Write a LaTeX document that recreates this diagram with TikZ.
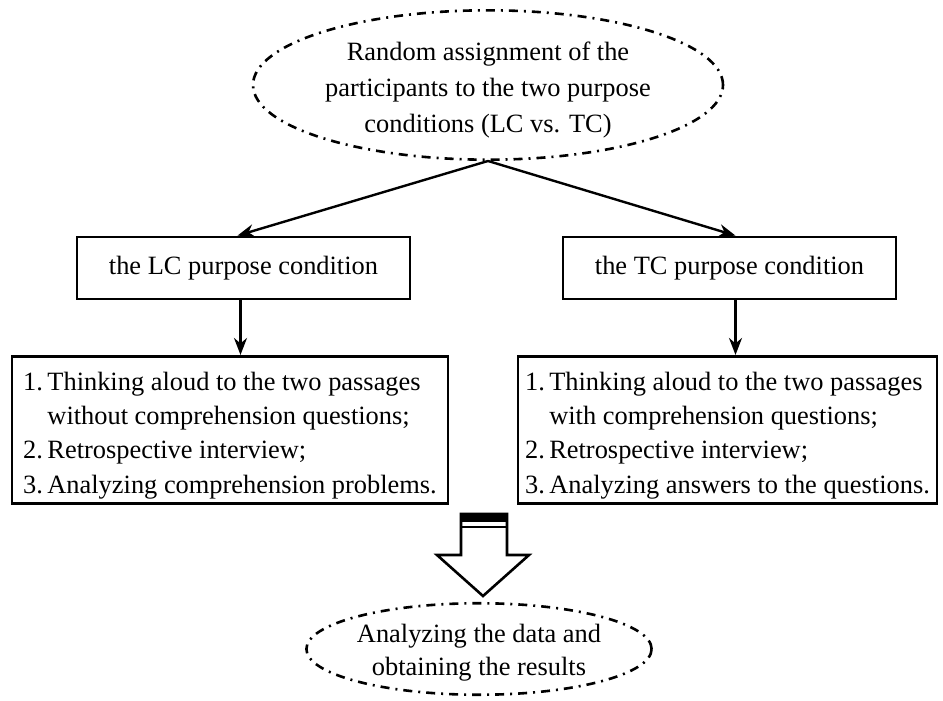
\documentclass[tikz,border=0pt]{standalone}
\usepackage{fontspec}
\setmainfont{Liberation Serif}
\usetikzlibrary{shapes.geometric,arrows.meta}
\tikzset{
  dashell/.style={ellipse, draw, line width=1.3pt, inner sep=0pt,
    dash pattern=on 4.5pt off 3pt on 1pt off 3pt, align=center},
  condbox/.style={rectangle, draw, line width=1.4pt, inner sep=0pt,
    minimum width=166.5pt, minimum height=31pt,
    font=\fontsize{13.2}{17.5}\selectfont},
  listbox/.style={rectangle, draw, line width=1.4pt, inner sep=0pt,
    minimum height=70pt, font=\fontsize{13.2}{17.2}\selectfont},
  conn/.style={line width=1.2pt, -{Stealth[length=8.5pt,width=6.5pt]}},
  bigarrow/.style={line width=1.3pt, fill=white}
}
\begin{document}
\begin{tikzpicture}[x=0.5pt,y=-0.5pt]
\useasboundingbox (0,0) rectangle (943,701);

\node[dashell, minimum width=235pt, minimum height=74pt,
      font=\fontsize{13.2}{18}\selectfont] (top) at (488,85)
  {\rule{0pt}{14pt}Random assignment of the\\participants to the two purpose\\conditions (LC vs. TC)};

\node[condbox] (lc) at (243.5,268) {the LC purpose condition};
\node[condbox] (tc) at (729.5,268) {the TC purpose condition};

\node[listbox, minimum width=218pt] (ll) at (230,430)
  {\renewcommand{\arraystretch}{1.0}%
   \begin{tabular}{@{}l@{\,}l@{}}
   \rule{0pt}{16.9pt}1. & Thinking aloud to the two passages\\
      & without comprehension questions;\\
   2. & Retrospective interview;\\
   3. & Analyzing comprehension problems.
   \end{tabular}};
\node[listbox, minimum width=209.5pt] (rl) at (727.5,430)
  {\renewcommand{\arraystretch}{1.0}%
   \begin{tabular}{@{}l@{\,}l@{}}
   \rule{0pt}{16.9pt}1. & Thinking aloud to the two passages\\
      & with comprehension questions;\\
   2. & Retrospective interview;\\
   3. & Analyzing answers to the questions.
   \end{tabular}};

\node[dashell, minimum width=172pt, minimum height=44pt,
      font=\fontsize{13.2}{16.5}\selectfont] (bot) at (479,649)
  {\rule{0pt}{13pt}Analyzing the data and\\obtaining the results};

\draw[conn] (top.south) -- ([xshift=-3pt]lc.north);
\draw[conn] (top.south) -- ([xshift=3pt]tc.north);
\draw[conn] ([xshift=-1.5pt]lc.south) -- ([xshift=-1.5pt]lc.south |- ll.north);
\draw[conn] ([xshift=3pt]tc.south) -- ([xshift=3pt]tc.south |- rl.north);

% big hollow arrow
\coordinate (ba) at (483,596);
\draw[bigarrow] (461,514) -- (461,555) -- (437,555) -- (ba) -- (529,555) -- (507,555) -- (507,514) -- cycle;
\fill (461,513) rectangle (507,522);
\draw[line width=1.2pt] (461,527) -- (507,527);
\end{tikzpicture}
\end{document}
